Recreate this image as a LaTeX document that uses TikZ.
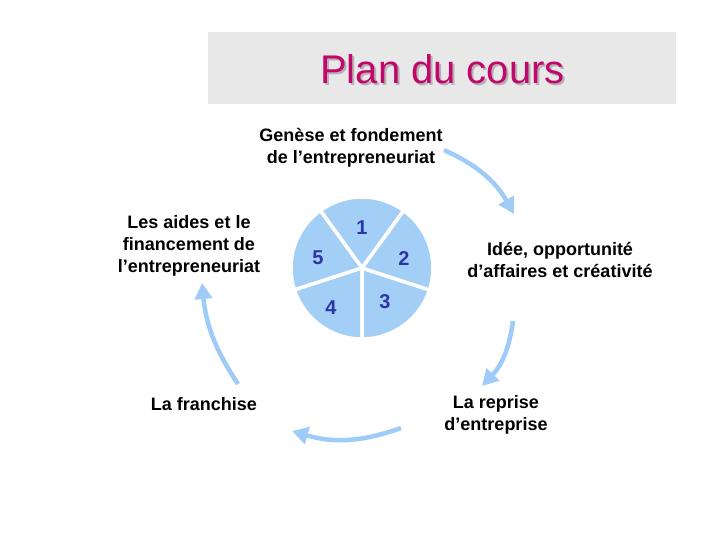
\documentclass[tikz,border=0pt]{standalone}
\usepackage{fontspec}
\setmainfont{Liberation Sans}
\usetikzlibrary{arrows.meta}
\definecolor{titlebg}{HTML}{E8E8E8}
\definecolor{titlecol}{HTML}{C0086A}
\definecolor{shadowcol}{HTML}{B8B0B4}
\definecolor{pieblue}{HTML}{A3CFF7}
\definecolor{numblue}{HTML}{2A35A8}
\definecolor{arrowblue}{HTML}{9ECBF7}
\tikzset{
  lbl/.style={font=\fontsize{18}{22}\selectfont\bfseries, align=center, inner sep=0pt},
  num/.style={font=\fontsize{20}{22}\selectfont\bfseries, text=numblue, inner sep=0pt},
  slice/.style={fill=pieblue, draw=white, line width=3.5pt, line join=round},
  cyc/.style={draw=arrowblue, line width=4.5pt, -{Triangle[length=16pt,width=17pt]}}
}
\begin{document}
\begin{tikzpicture}[x=1pt,y=-1pt]
\useasboundingbox (0,0) rectangle (720,540);
\fill[white] (0,0) rectangle (720,540);
% title
\fill[titlebg] (208,32) rectangle (676,104);
\node[font=\fontsize{40}{46}\selectfont, text=shadowcol, inner sep=0pt] at (444.5,71) {Plan du cours};
\node (title) [font=\fontsize{40}{46}\selectfont, text=titlecol, inner sep=0pt] at (442.5,69) {Plan du cours};
% pie
\coordinate (c) at (362,268);
\begin{scope}[shift={(c)}, yscale=-1]
\foreach \a in {54,126,198,270,342}{
  \draw[slice] (0,0) -- (\a:71) arc[start angle=\a, end angle=\a+72, radius=71] -- cycle;
}
\end{scope}
\node (n1) [num] at (362,228) {1};
\node (n2) [num] at (404,259) {2};
\node (n3) [num] at (385,302) {3};
\node (n4) [num] at (331,308) {4};
\node (n5) [num] at (318,258) {5};
% labels
\node (genese) [lbl] at (351,148) {Genèse et fondement\\de l’entrepreneuriat};
\node (aides) [lbl] at (189,246) {Les aides et le\\financement de\\l’entrepreneuriat};
\node (idee) [lbl] at (560,260) {Idée, opportunité\\d’affaires et créativité};
\node (franchise) [lbl] at (204,404) {La franchise};
\node (reprise) [lbl] at (496,415) {La reprise\\d’entreprise};
% cycle arrows
\coordinate (a1s) at (444,150);
\coordinate (a1e) at (514,214);
\coordinate (a2s) at (513,321);
\coordinate (a2e) at (482,386);
\coordinate (a3s) at (401,428);
\coordinate (a3e) at (292,431);
\coordinate (a4s) at (238,384);
\coordinate (a4e) at (202,283);
\draw[cyc] (a1s) to[bend left=18] (a1e);
\draw[cyc] (a2s) to[bend left=18] (a2e);
\draw[cyc] (a3s) to[bend left=18] (a3e);
\draw[cyc] (a4s) to[bend left=14] (a4e);
\end{tikzpicture}
\end{document}
